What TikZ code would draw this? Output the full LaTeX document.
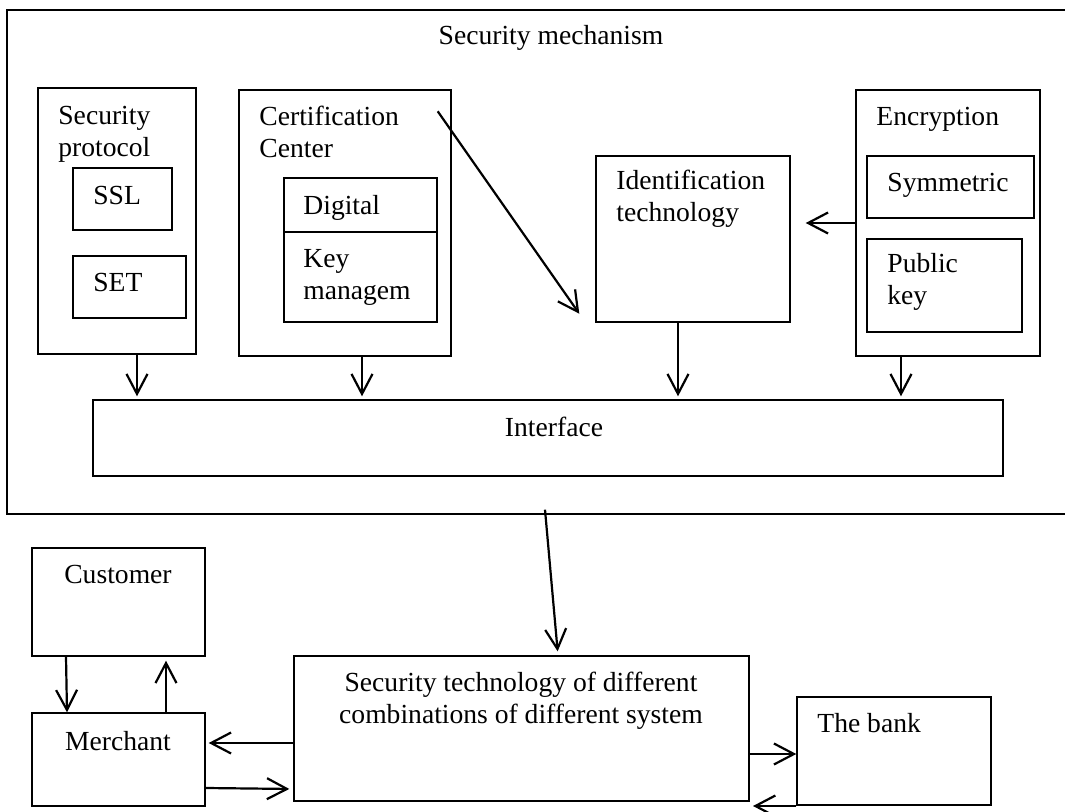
\documentclass[tikz,border=0pt]{standalone}
\usepackage{fontspec}
\setmainfont{Liberation Serif}
\usetikzlibrary{arrows.meta,fit,calc}
\tikzset{
  box/.style={draw, line width=0.7pt, inner sep=0pt},
  lbl/.style={anchor=base west, inner sep=0pt, align=left, font=\fontsize{13.8pt}{16pt}\selectfont},
  ctr/.style={lbl, anchor=base, align=center},
  arr/.style={-{Straight Barb[length=10pt,width=10.5pt]}, line width=1.1pt},
}

\begin{document}
\begin{tikzpicture}[x=0.5pt, y=-0.5pt]
\useasboundingbox (0,0) rectangle (1065,812);
\clip (0,0) rectangle (1065,812);
% outer frame, runs off the right edge
\node[box, fit={(7,10) (1080,514)}] (mech) {};
\node[ctr] (mechtxt) at (551,45) {Security mechanism};
\begin{scope}
  \node[box, fit={(38,88) (196,354)}] (sp) {};
  \node[box, fit={(73,168) (172,230)}] (ssl) {};
  \node[box, fit={(73,256) (186,318)}] (set) {};
  \node[lbl] (sptxt) at (58,157) {Security\\protocol};
  \node[lbl] (ssltxt) at (93,205) {SSL};
  \node[lbl] (settxt) at (93,292) {SET};
\end{scope}
\begin{scope}
  \node[box, fit={(239,90) (451,356)}] (cc) {};
  \node[box, fit={(284,178) (437,232)}] (dig) {};
  \node[box, fit={(284,232) (437,322)}] (key) {};
  \node[lbl] (cctxt) at (259,158) {Certification\\Center};
  \node[lbl] (digtxt) at (303,215) {Digital};
  \node[lbl] (keytxt) at (303,300) {Key\\managem};
\end{scope}
\node[box, fit={(596,156) (790,322)}] (idt) {};
\node[lbl] (idttxt) at (616,222) {Identification\\technology};
\begin{scope}
  \node[box, fit={(856,90) (1040,356)}] (enc) {};
  \node[box, fit={(867,156) (1034,218)}] (sym) {};
  \node[box, fit={(867,239) (1022,332)}] (pub) {};
  \node[lbl] (enctxt) at (876,126) {Encryption};
  \node[lbl] (symtxt) at (887,192) {Symmetric};
  \node[lbl] (pubtxt) at (887,305) {Public\\key};
\end{scope}
\node[box, fit={(93,400) (1003,476)}] (iface) {};
\node[ctr] (ifacetxt) at (554,437) {Interface};

\node[box, fit={(32,548) (205,656)}] (cust) {};
\node[ctr] (custtxt) at (118,583) {Customer};
\node[box, fit={(32,713) (205,806)}] (merch) {};
\node[ctr] (merchtxt) at (118,750) {Merchant};
\node[box, fit={(294,656) (749,801)}] (sec) {};
\node[ctr] (sectxt) at (521,723) {Security technology of different\\combinations of different system};
\node[box, fit={(797,697) (991,805)}] (bank) {};
\node[lbl] (banktxt) at (817,732) {The bank};

% arrows into the interface
\foreach \n/\xx in {sp/137, cc/362, idt/678, enc/901}
  \draw[arr] (\xx,0 |- \n.south) -- ([yshift=1.5pt]\xx,0 |- iface.north);
\draw[arr] ($(cc.north east)+(-14,22)$) -- ($(idt.south west)+(-16,-9)$);
\draw[arr, shorten >=7.5pt] (enc.west) -- (idt.east |- enc.west);
\draw[arr, shorten >=2pt] ($(545,0 |- mech.south)+(0,-5)$) -- (558,0 |- sec.north);

\draw[arr] (66,0 |- cust.south) -- (67,0 |- merch.north);
\draw[arr, shorten >=2pt] (166,0 |- merch.north) -- (166,0 |- cust.south);
\draw[arr, shorten >=1.5pt] (sec.west |- 0,743) -- (merch.east |- 0,743);
\draw[arr, shorten >=2pt] (merch.east |- 0,788) -- (sec.west |- 0,789);
\draw[arr] (sec.east |- 0,754) -- (bank.west |- 0,754);
\draw[arr] (bank.west |- 0,806) -- (753,806);
\end{tikzpicture}
\end{document}
